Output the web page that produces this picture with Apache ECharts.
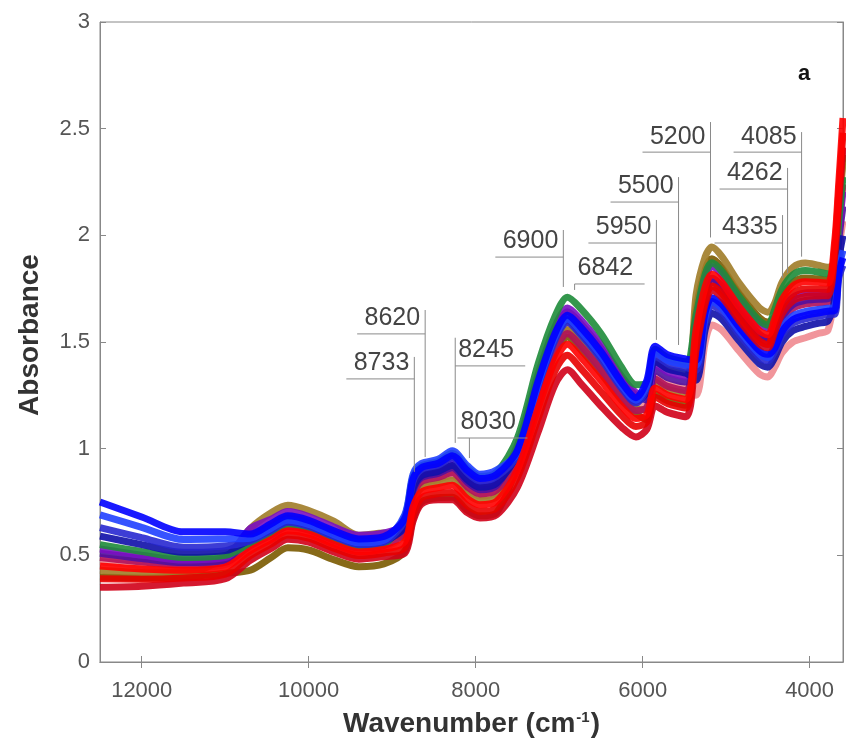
<!DOCTYPE html>
<html>
<head>
<meta charset="utf-8">
<script src="https://cdn.jsdelivr.net/npm/echarts@6/dist/echarts.min.js"></script>
<style>html,body{margin:0;padding:0;background:#fff}#c{width:846px;height:751px}</style>
</head>
<body>
<div id="c"></div>
<script>
// wavenumber grid (cm-1)
const wavenumbers = [12500, 12000, 11500, 11000, 10700, 10450, 10250, 10000, 9700, 9400, 9100, 8850, 8750, 8650, 8450, 8280, 8100, 7950, 7750, 7500, 7250, 7050, 6900, 6750, 6500, 6250, 6080, 5950, 5850, 5700, 5480, 5360, 5250, 5170, 5050, 4850, 4600, 4500, 4420, 4330, 4200, 4050, 3900, 3780, 3700, 3650, 3600];

// spectra (absorbance)
const specBlue1 = [0.75, 0.68, 0.61, 0.61, 0.60, 0.648, 0.685, 0.664, 0.615, 0.577, 0.588, 0.672, 0.858, 0.911, 0.931, 0.967, 0.898, 0.86, 0.879, 0.993, 1.32, 1.54, 1.625, 1.573, 1.455, 1.31, 1.239, 1.32, 1.48, 1.44, 1.42, 1.415, 1.64, 1.708, 1.676, 1.572, 1.459, 1.442, 1.47, 1.549, 1.605, 1.625, 1.636, 1.644, 1.647, 1.823, 1.895];
const specBlue2 = [0.69, 0.631, 0.574, 0.577, 0.58, 0.627, 0.665, 0.645, 0.597, 0.559, 0.571, 0.69, 0.88, 0.93, 0.95, 0.99, 0.92, 0.88, 0.90, 0.981, 1.304, 1.524, 1.608, 1.555, 1.438, 1.296, 1.227, 1.297, 1.452, 1.413, 1.393, 1.391, 1.62, 1.69, 1.659, 1.556, 1.443, 1.427, 1.485, 1.566, 1.623, 1.643, 1.652, 1.658, 1.664, 1.845, 1.929];
const specBlue3 = [0.63, 0.583, 0.538, 0.544, 0.568, 0.616, 0.655, 0.636, 0.588, 0.551, 0.562, 0.663, 0.847, 0.902, 0.922, 0.956, 0.887, 0.849, 0.869, 0.97, 1.288, 1.508, 1.591, 1.538, 1.421, 1.282, 1.214, 1.286, 1.438, 1.40, 1.38, 1.368, 1.60, 1.671, 1.641, 1.54, 1.428, 1.412, 1.455, 1.533, 1.588, 1.608, 1.62, 1.629, 1.63, 1.80, 1.86];
const specBlue4 = [0.59, 0.55, 0.514, 0.522, 0.573, 0.62, 0.659, 0.64, 0.592, 0.554, 0.565, 0.636, 0.814, 0.873, 0.893, 0.921, 0.854, 0.819, 0.837, 0.976, 1.298, 1.518, 1.601, 1.548, 1.431, 1.29, 1.222, 1.263, 1.41, 1.373, 1.353, 1.321, 1.56, 1.635, 1.607, 1.508, 1.397, 1.382, 1.425, 1.50, 1.553, 1.573, 1.588, 1.599, 1.698, 1.89, 1.998];
const specGreen = [0.55, 0.518, 0.49, 0.50, 0.557, 0.606, 0.645, 0.627, 0.579, 0.542, 0.554, 0.681, 0.869, 0.92, 0.94, 0.978, 0.909, 0.87, 0.89, 1.05, 1.40, 1.62, 1.71, 1.66, 1.54, 1.38, 1.30, 1.308, 1.466, 1.427, 1.407, 1.626, 1.82, 1.872, 1.831, 1.716, 1.598, 1.579, 1.65, 1.747, 1.815, 1.835, 1.828, 1.82, 1.834, 2.07, 2.274];
const specPurple1 = [0.53, 0.501, 0.478, 0.489, 0.626, 0.669, 0.705, 0.682, 0.633, 0.594, 0.605, 0.645, 0.825, 0.883, 0.903, 0.933, 0.865, 0.829, 0.848, 1.016, 1.352, 1.572, 1.659, 1.608, 1.489, 1.338, 1.263, 1.251, 1.396, 1.359, 1.339, 1.603, 1.80, 1.854, 1.814, 1.70, 1.583, 1.564, 1.56, 1.648, 1.71, 1.73, 1.732, 1.732, 1.80, 2.025, 2.205];
const specPurple2 = [0.51, 0.485, 0.466, 0.478, 0.591, 0.637, 0.675, 0.655, 0.606, 0.568, 0.579, 0.627, 0.803, 0.864, 0.884, 0.91, 0.843, 0.808, 0.827, 1.004, 1.336, 1.556, 1.642, 1.59, 1.472, 1.324, 1.251, 1.228, 1.368, 1.332, 1.312, 1.532, 1.74, 1.799, 1.762, 1.652, 1.536, 1.518, 1.53, 1.615, 1.675, 1.695, 1.70, 1.703, 1.766, 1.98, 2.136];
const specBrown = [0.43, 0.42, 0.418, 0.489, 0.626, 0.70, 0.735, 0.71, 0.66, 0.594, 0.605, 0.582, 0.748, 0.816, 0.836, 0.852, 0.788, 0.757, 0.774, 0.947, 1.256, 1.476, 1.557, 1.503, 1.387, 1.254, 1.19, 1.182, 1.312, 1.278, 1.258, 1.72, 1.90, 1.945, 1.90, 1.78, 1.66, 1.64, 1.68, 1.78, 1.85, 1.87, 1.86, 1.85, 1.868, 2.115, 2.343];
const specRed1 = [0.45, 0.436, 0.43, 0.445, 0.522, 0.574, 0.615, 0.599, 0.552, 0.516, 0.528, 0.564, 0.726, 0.797, 0.817, 0.829, 0.766, 0.737, 0.753, 0.90, 1.192, 1.412, 1.489, 1.433, 1.319, 1.198, 1.141, 1.159, 1.284, 1.251, 1.231, 1.556, 1.76, 1.817, 1.779, 1.668, 1.552, 1.534, 1.605, 1.698, 1.763, 1.783, 1.78, 1.776, 1.97, 2.25, 2.55];
const specRed2 = [0.39, 0.388, 0.394, 0.412, 0.499, 0.553, 0.595, 0.581, 0.534, 0.499, 0.511, 0.537, 0.693, 0.769, 0.789, 0.795, 0.733, 0.706, 0.722, 0.866, 1.144, 1.364, 1.438, 1.38, 1.268, 1.156, 1.104, 1.125, 1.242, 1.211, 1.191, 1.485, 1.70, 1.763, 1.728, 1.62, 1.505, 1.488, 1.575, 1.665, 1.728, 1.748, 1.748, 1.747, 1.936, 2.205, 2.481];
const specRed3 = [0.35, 0.355, 0.37, 0.39, 0.476, 0.532, 0.575, 0.562, 0.516, 0.482, 0.494, 0.51, 0.66, 0.74, 0.76, 0.76, 0.70, 0.675, 0.69, 0.82, 1.08, 1.30, 1.37, 1.31, 1.20, 1.10, 1.055, 1.09, 1.20, 1.17, 1.15, 1.462, 1.68, 1.744, 1.71, 1.604, 1.49, 1.473, 1.545, 1.632, 1.693, 1.713, 1.716, 1.717, 1.902, 2.16, 2.412];
const specOlive = [0.398, 0.394, 0.399, 0.416, 0.43, 0.49, 0.535, 0.525, 0.48, 0.447, 0.46, 0.519, 0.671, 0.75, 0.77, 0.772, 0.711, 0.685, 0.70, 0.924, 1.224, 1.444, 1.523, 1.468, 1.353, 1.226, 1.165, 1.136, 1.256, 1.224, 1.204, 1.65, 1.84, 1.89, 1.848, 1.732, 1.614, 1.594, 1.62, 1.714, 1.78, 1.80, 1.796, 1.791, 1.885, 2.138, 2.378];
const specPink = [0.47, 0.453, 0.442, 0.456, 0.534, 0.585, 0.625, 0.608, 0.561, 0.525, 0.537, 0.60, 0.77, 0.835, 0.855, 0.875, 0.81, 0.778, 0.795, 0.958, 1.272, 1.492, 1.574, 1.52, 1.404, 1.268, 1.202, 1.205, 1.34, 1.305, 1.285, 1.25, 1.50, 1.58, 1.555, 1.46, 1.35, 1.336, 1.38, 1.45, 1.50, 1.52, 1.54, 1.555, 1.732, 1.935, 2.067];
const specMagenta = [0.49, 0.469, 0.454, 0.467, 0.545, 0.595, 0.635, 0.618, 0.57, 0.534, 0.545, 0.609, 0.781, 0.845, 0.865, 0.887, 0.821, 0.788, 0.806, 0.935, 1.24, 1.46, 1.54, 1.485, 1.37, 1.24, 1.178, 1.194, 1.326, 1.292, 1.272, 1.509, 1.72, 1.781, 1.745, 1.636, 1.521, 1.503, 1.515, 1.599, 1.658, 1.678, 1.684, 1.688, 1.817, 2.048, 2.24];

// tick labels
const xTicks = [4000, 6000, 8000, 10000, 12000];
const yTicks = [0, 0.5, 1, 1.5, 2, 2.5, 3];

// peak annotations
const peakLabels = ['8733', '8620', '8245', '8030', '6900', '6842', '5950', '5500', '5200', '4335', '4262', '4085'];
const peakLineWave = [8735, 8605, 8245, 8075, 6950, 6815, 5835, 5570, 5187, 4324, 4264, 4096];
const peakUnderline = [1.327, 1.538, 1.388, 1.050, 1.898, 1.772, 1.964, 2.156, 2.39, 1.964, 2.217, 2.39];
const peakLineTop = [1.43, 1.65, 1.52, 1.05, 2.025, 1.772, 2.072, 2.273, 2.531, 2.095, 2.316, 2.484];
const peakLineBottom = [0.891, 0.961, 1.027, 0.956, 1.758, 1.744, 1.51, 1.486, 1.99, 1.80, 1.823, 1.90];
const peakSide = ['left', 'left', 'right', 'right', 'left', 'right', 'left', 'left', 'left', 'left', 'left', 'left'];

const spectra = [
  {d: specOlive, c: '#7a5a00'},
  {d: specPink, c: '#f08a90'},
  {d: specBrown, c: '#a07c28'},
  {d: specMagenta, c: '#b0105a'},
  {d: specPurple2, c: '#5010a0'},
  {d: specPurple1, c: '#7a10c0'},
  {d: specGreen, c: '#1e8c3a'},
  {d: specBlue4, c: '#1010a8'},
  {d: specBlue3, c: '#2828d0'},
  {d: specBlue2, c: '#2040ff'},
  {d: specBlue1, c: '#0000ff'},
  {d: specRed3, c: '#d00018'},
  {d: specRed2, c: '#e80000'},
  {d: specRed1, c: '#ff0000'}
];

const FONT = 'Liberation Sans, Arial, Helvetica, sans-serif';
const series = spectra.map(s => ({
  type: 'line',
  data: wavenumbers.map((w, i) => [w, s.d[i]]),
  showSymbol: false,
  smooth: 0.3,
  lineStyle: {color: s.c, width: 7, opacity: 0.9},
  itemStyle: {color: s.c},
  silent: true,
  z: 2
}));

const annData = peakLabels.map((l, i) => [peakLineWave[i], peakUnderline[i], peakLineTop[i], peakLineBottom[i], i]);
series.push({
  type: 'custom',
  data: annData,
  silent: true,
  z: 5,
  renderItem: function (params, api) {
    const i = api.value(4);
    const w = api.value(0);
    const pU = api.coord([w, api.value(1)]);
    const pT = api.coord([w, api.value(2)]);
    const pB = api.coord([w, api.value(3)]);
    const label = peakLabels[i];
    const side = peakSide[i];
    const textW = 62;
    const shift = label === '8030' ? -12 : 0;
    const children = [];
    children.push({type: 'line', shape: {x1: pT[0], y1: pT[1], x2: pB[0], y2: pB[1]}, style: {stroke: '#8a8a8a', lineWidth: 1}});
    let x1, x2, tx, align;
    if (side === 'left') {
      x1 = pU[0] - textW - 6; x2 = pU[0]; tx = pU[0] - 5; align = 'right';
    } else {
      x1 = pU[0] + shift; x2 = pU[0] + textW + 8 + shift; tx = pU[0] + 3 + shift; align = 'left';
    }
    children.push({type: 'line', shape: {x1: x1, y1: pU[1], x2: x2, y2: pU[1]}, style: {stroke: '#8a8a8a', lineWidth: 1}});
    children.push({type: 'text', x: tx, y: pU[1] - 3, style: {text: label, fill: '#444', font: '25px ' + FONT, textAlign: align, textVerticalAlign: 'bottom'}});
    return {type: 'group', children: children};
  }
});

const chart = echarts.init(document.getElementById('c'), null, {renderer: 'canvas'});
chart.setOption({
  animation: false,
  backgroundColor: '#fff',
  title: {text: 'a', left: 793, top: 58, textStyle: {fontSize: 22, fontWeight: 'bold', color: '#111', fontFamily: FONT}},
  grid: {left: 100, right: 3, top: 22, bottom: 89, show: true, borderColor: '#888', borderWidth: 1},
  xAxis: [{
    type: 'value', min: 3600, max: 12500, inverse: true, position: 'bottom',
    name: 'Wavenumber (cm{sup|-1})', nameLocation: 'middle', nameGap: 48,
    nameTextStyle: {fontSize: 28, fontWeight: 'bold', color: '#333', fontFamily: FONT,
      rich: {sup: {fontSize: 15, fontWeight: 'bold', color: '#333', fontFamily: FONT, verticalAlign: 'top', padding: [0, 1, 12, 1]}}},
    axisLine: {show: true, lineStyle: {color: '#888', width: 1}},
    axisTick: {show: true, inside: true, length: 6, lineStyle: {color: '#888'}, customValues: xTicks},
    axisLabel: {show: true, customValues: xTicks, fontSize: 22, color: '#555', margin: 18, fontFamily: FONT,
      formatter: function (v) { return String(v); }},
    splitLine: {show: false}
  }, {
    type: 'value', min: 3600, max: 12500, inverse: true, position: 'top',
    axisLine: {show: true, lineStyle: {color: '#888', width: 1}},
    axisTick: {show: true, inside: true, length: 6, lineStyle: {color: '#888'}, customValues: xTicks},
    axisLabel: {show: false},
    splitLine: {show: false}
  }],
  yAxis: [{
    type: 'value', min: 0, max: 3, interval: 0.5, position: 'left',
    name: 'Absorbance', nameLocation: 'middle', nameGap: 56,
    nameTextStyle: {fontSize: 28, fontWeight: 'bold', color: '#333', fontFamily: FONT, padding: [0, 0, 0, 14]},
    axisLine: {show: true, lineStyle: {color: '#888', width: 1}},
    axisTick: {show: true, inside: true, length: 6, lineStyle: {color: '#888'}},
    axisLabel: {fontSize: 22, color: '#555', margin: 10, fontFamily: FONT,
      formatter: function (v) { return yTicks.indexOf(v) >= 0 ? String(v) : ''; }},
    splitLine: {show: false}
  }, {
    type: 'value', min: 0, max: 3, interval: 0.5, position: 'right',
    axisLine: {show: true, lineStyle: {color: '#888', width: 1}},
    axisTick: {show: true, inside: true, length: 6, lineStyle: {color: '#888'}},
    axisLabel: {show: false},
    splitLine: {show: false}
  }],
  series: series
});
</script>
</body>
</html>
